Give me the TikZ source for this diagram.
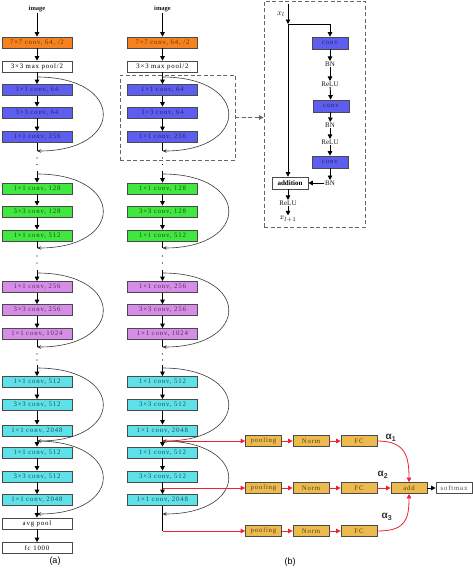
\documentclass[tikz,border=0pt]{standalone}
\usepackage{fontspec}
\setmainfont{Liberation Serif}
\newfontfamily\boxfamily[LetterSpace=12]{Liberation Serif}
\newfontfamily\sansfam{Liberation Sans}
\usetikzlibrary{arrows.meta}
\definecolor{cOr}{HTML}{F5821F}
\definecolor{cBl}{HTML}{5D5DF0}
\definecolor{cGr}{HTML}{40E840}
\definecolor{cVi}{HTML}{D68DE8}
\definecolor{cCy}{HTML}{5EE1E8}
\definecolor{cGo}{HTML}{EDBA4D}
\definecolor{cBd}{HTML}{4A4A4A}
\definecolor{cRd}{HTML}{EE2233}
\definecolor{cSk}{HTML}{3A3A3A}
\begin{document}
\begin{tikzpicture}[x=1pt,y=-1pt,
  box/.style={draw=cBd, line width=0.7pt, minimum width=70pt, minimum height=11pt, inner sep=0pt, font=\boxfamily\fontsize{6.8}{7}\selectfont},
  orb/.style={box, fill=cOr, text=cOr!40!black},
  whb/.style={box, fill=white, text=black},
  blb/.style={box, fill=cBl, text=cBl!40!black},
  grb/.style={box, fill=cGr, text=cGr!35!black},
  vib/.style={box, fill=cVi, text=cVi!35!black},
  cyb/.style={box, fill=cCy, text=cCy!35!black},
  gob/.style={box, minimum width=36pt, fill=cGo, text=cGo!35!black},
  smb/.style={box, minimum width=36pt, fill=white, text=black!70},
  cvb/.style={box, minimum width=36pt, minimum height=12pt, fill=cBl, text=cBl!40!black},
  lbl/.style={font=\fontsize{7}{8}\selectfont, inner sep=0.5pt, text=black!90},
  arr/.style={-{Triangle[length=4.5pt,width=4.5pt]}, line width=0.9pt, black},
  ln/.style={line width=0.9pt, black},
  skip/.style={-{Stealth[length=4pt,width=3.5pt]}, line width=0.6pt, draw=cSk},
  rarr/.style={-{Triangle[length=4.5pt,width=4.5pt]}, line width=0.8pt, draw=cRd, fill=cRd},
  dashb/.style={draw=cBd!85, dash pattern=on 4pt off 2.5pt, line width=0.9pt, inner sep=0pt},
  alph/.style={font=\sansfam\bfseries\fontsize{10}{11}\selectfont, text=black!80, inner sep=0pt},
]
\fill[white] (0,0) rectangle (473,570);
\useasboundingbox (0,0) rectangle (473,570);

\foreach \c/\x in {a/37, b/162.5} {
  \node[lbl, font=\bfseries\fontsize{6.5}{7}\selectfont] (\c0) at (\x,9) {image};
  \node[orb] (\c1) at (\x,42.5) {7×7 conv, 64, /2};
  \node[whb] (\c2) at (\x,66.5) {3×3 max pool/2};
  \node[blb] (\c3) at (\x,90) {1×1 conv, 64};
  \node[blb] (\c4) at (\x,112.5) {3×3 conv, 64};
  \node[blb] (\c5) at (\x,137) {1×1 conv, 256};
  \node[grb] (\c6) at (\x,188.5) {1×1 conv, 128};
  \node[grb] (\c7) at (\x,211.5) {3×3 conv, 128};
  \node[grb] (\c8) at (\x,235.5) {1×1 conv, 512};
  \node[vib] (\c9) at (\x,287) {1×1 conv, 256};
  \node[vib] (\c10) at (\x,310) {3×3 conv, 256};
  \node[vib] (\c11) at (\x,334) {1×1 conv, 1024};
  \node[cyb] (\c12) at (\x,382) {1×1 conv, 512};
  \node[cyb] (\c13) at (\x,405) {3×3 conv, 512};
  \node[cyb] (\c14) at (\x,430.5) {1×1 conv, 2048};
  \node[cyb] (\c15) at (\x,452.5) {1×1 conv, 512};
  \node[cyb] (\c16) at (\x,476.5) {3×3 conv, 512};
  \node[cyb] (\c17) at (\x,500) {1×1 conv, 2048};
  \coordinate (\c-s1) at (\x,77);  \coordinate (\c-e1) at (\x,151);
  \coordinate (\c-s2) at (\x,174); \coordinate (\c-e2) at (\x,248);
  \coordinate (\c-s3) at (\x,273); \coordinate (\c-e3) at (\x,347);
  \coordinate (\c-s4) at (\x,368); \coordinate (\c-e4) at (\x,441);
  \coordinate (\c-s5) at (\x,441); \coordinate (\c-e5) at (\x,514);
  \coordinate (\c-t2) at (\x,171);
  \coordinate (\c-t3) at (\x,270);
  \coordinate (\c-t4) at (\x,365);
  \draw[arr] (\c0) -- (\c1);
  \draw[arr] (\c1) -- (\c2);
  \draw[arr] (\c2) -- (\c3);
  \draw[arr] (\c3) -- (\c4);
  \draw[arr] (\c4) -- (\c5);
  \draw[ln] (\c5) -- (\c-e1);
  \draw[arr] (\c-t2) -- (\c6);
  \draw[arr] (\c6) -- (\c7);
  \draw[arr] (\c7) -- (\c8);
  \draw[ln] (\c8) -- (\c-e2);
  \draw[arr] (\c-t3) -- (\c9);
  \draw[arr] (\c9) -- (\c10);
  \draw[arr] (\c10) -- (\c11);
  \draw[ln] (\c11) -- (\c-e3);
  \draw[arr] (\c-t4) -- (\c12);
  \draw[arr] (\c12) -- (\c13);
  \draw[arr] (\c13) -- (\c14);
  \draw[arr] (\c14) -- (\c15);
  \draw[arr] (\c15) -- (\c16);
  \draw[arr] (\c16) -- (\c17);
  \foreach \y in {158,164.5,256,263,354,360} { \fill[black] (\x,\y) circle (0.7pt); }
  \foreach \i in {1,...,5} {
    \draw[skip] (\c-s\i) .. controls +(88,0) and +(88,0) .. (\c-e\i);
  }
}

% column (a) end
\node[whb] (a18) at (37,523.5) {avg pool};
\node[whb] (a19) at (37,548) {fc 1000};
\draw[arr] (a17) -- (a18);
\draw[arr] (a18) -- (a19);
\node[font=\sansfam\fontsize{9}{10}\selectfont] (la) at (55,561) {(a)};

% dashed block and inset
\node[dashb, minimum width=115pt, minimum height=85pt] (dbox) at (177.5,117.5) {};
\node[dashb, minimum width=101pt, minimum height=226pt] (inset) at (314.5,114) {};
\draw[dashb, -{Triangle[length=4.5pt,width=4.5pt]}, fill=cBd] (dbox.east) -- (dbox.east -| inset.west);

\coordinate (xin) at (288,4);
\coordinate (br) at (288,24);
\node[lbl, font=\fontsize{8.5}{9}\selectfont] (xl) at (281,14) {$x_l$};
\node[cvb] (c1) at (330,43) {conv};
\node[lbl] (bn1) at (330,64) {BN};
\node[lbl] (re1) at (330,84) {ReLU};
\node[cvb] (c2) at (331,106) {conv};
\node[lbl] (bn2) at (330,125) {BN};
\node[lbl] (re2) at (330,142) {ReLU};
\node[cvb] (c3) at (330,162) {conv};
\node[lbl] (bn3) at (330,183) {BN};
\node[box, minimum width=36pt, minimum height=12pt, fill=white, font=\bfseries\fontsize{7}{8}\selectfont] (addi) at (290,183) {addition};
\node[lbl] (re3) at (288,203) {ReLU};
\node[lbl, font=\fontsize{8.5}{9}\selectfont] (xl1) at (288,219) {$x_{l+1}$};
\draw[arr] (xin) -- (br);
\draw[arr, line width=0.6pt] (br) -- (br |- addi.north);
\draw[arr, line width=0.6pt] (br) -| (c1.north);
\draw[arr] (c1) -- (bn1);
\draw[arr] (bn1) -- (re1);
\draw[arr] (re1) -- (c2);
\draw[arr] (c2) -- (bn2);
\draw[arr] (bn2) -- (re2);
\draw[arr] (re2) -- (c3);
\draw[arr] (c3) -- (bn3);
\draw[arr] (bn3) -- (addi);
\draw[arr] (addi.south -| re3) -- (re3);
\draw[arr] (re3) -- (xl1);

% column (b) end and attention branch
\coordinate (b-j2) at (162.5,488);
\coordinate (b-r3) at (162.5,531);
\draw[ln] (b17) -- (b-r3);
\node[gob] (p1) at (263.5,441) {pooling};
\node[gob] (n1) at (311,441) {Norm};
\node[gob] (f1) at (359,441) {FC};
\node[gob] (p2) at (263.5,488) {pooling};
\node[gob] (n2) at (311,488) {Norm};
\node[gob] (f2) at (359,488) {FC};
\node[gob] (p3) at (263.5,531) {pooling};
\node[gob] (n3) at (311,531) {Norm};
\node[gob] (f3) at (359,531) {FC};
\node[gob] (adn) at (409,488) {add};
\node[smb] (smx) at (454,488) {softmax};
\draw[rarr] (b-e4) -- (p1);
\draw[rarr] (b-j2) -- (p2);
\draw[rarr] (b-r3) -- (p3);
\draw[rarr] (p1) -- (n1);
\draw[rarr] (n1) -- (f1);
\draw[rarr] (p2) -- (n2);
\draw[rarr] (n2) -- (f2);
\draw[rarr] (p3) -- (n3);
\draw[rarr] (n3) -- (f3);
\draw[rarr] (f2) -- (adn);
\draw[rarr, fill=none] (f1.east) .. controls +(28,0) and +(0,-26) .. (adn.north);
\draw[rarr, fill=none] (f3.east) .. controls +(28,0) and +(0,26) .. (adn.south);
\draw[arr] (adn) -- (smx);
\node[alph] (al1) at (391,438) {α\textsubscript{1}};
\node[alph] (al2) at (383,475) {α\textsubscript{2}};
\node[alph] (al3) at (387,517) {α\textsubscript{3}};
\node[font=\sansfam\fontsize{9}{10}\selectfont] (lb) at (290,562) {(b)};
\end{tikzpicture}
\end{document}
